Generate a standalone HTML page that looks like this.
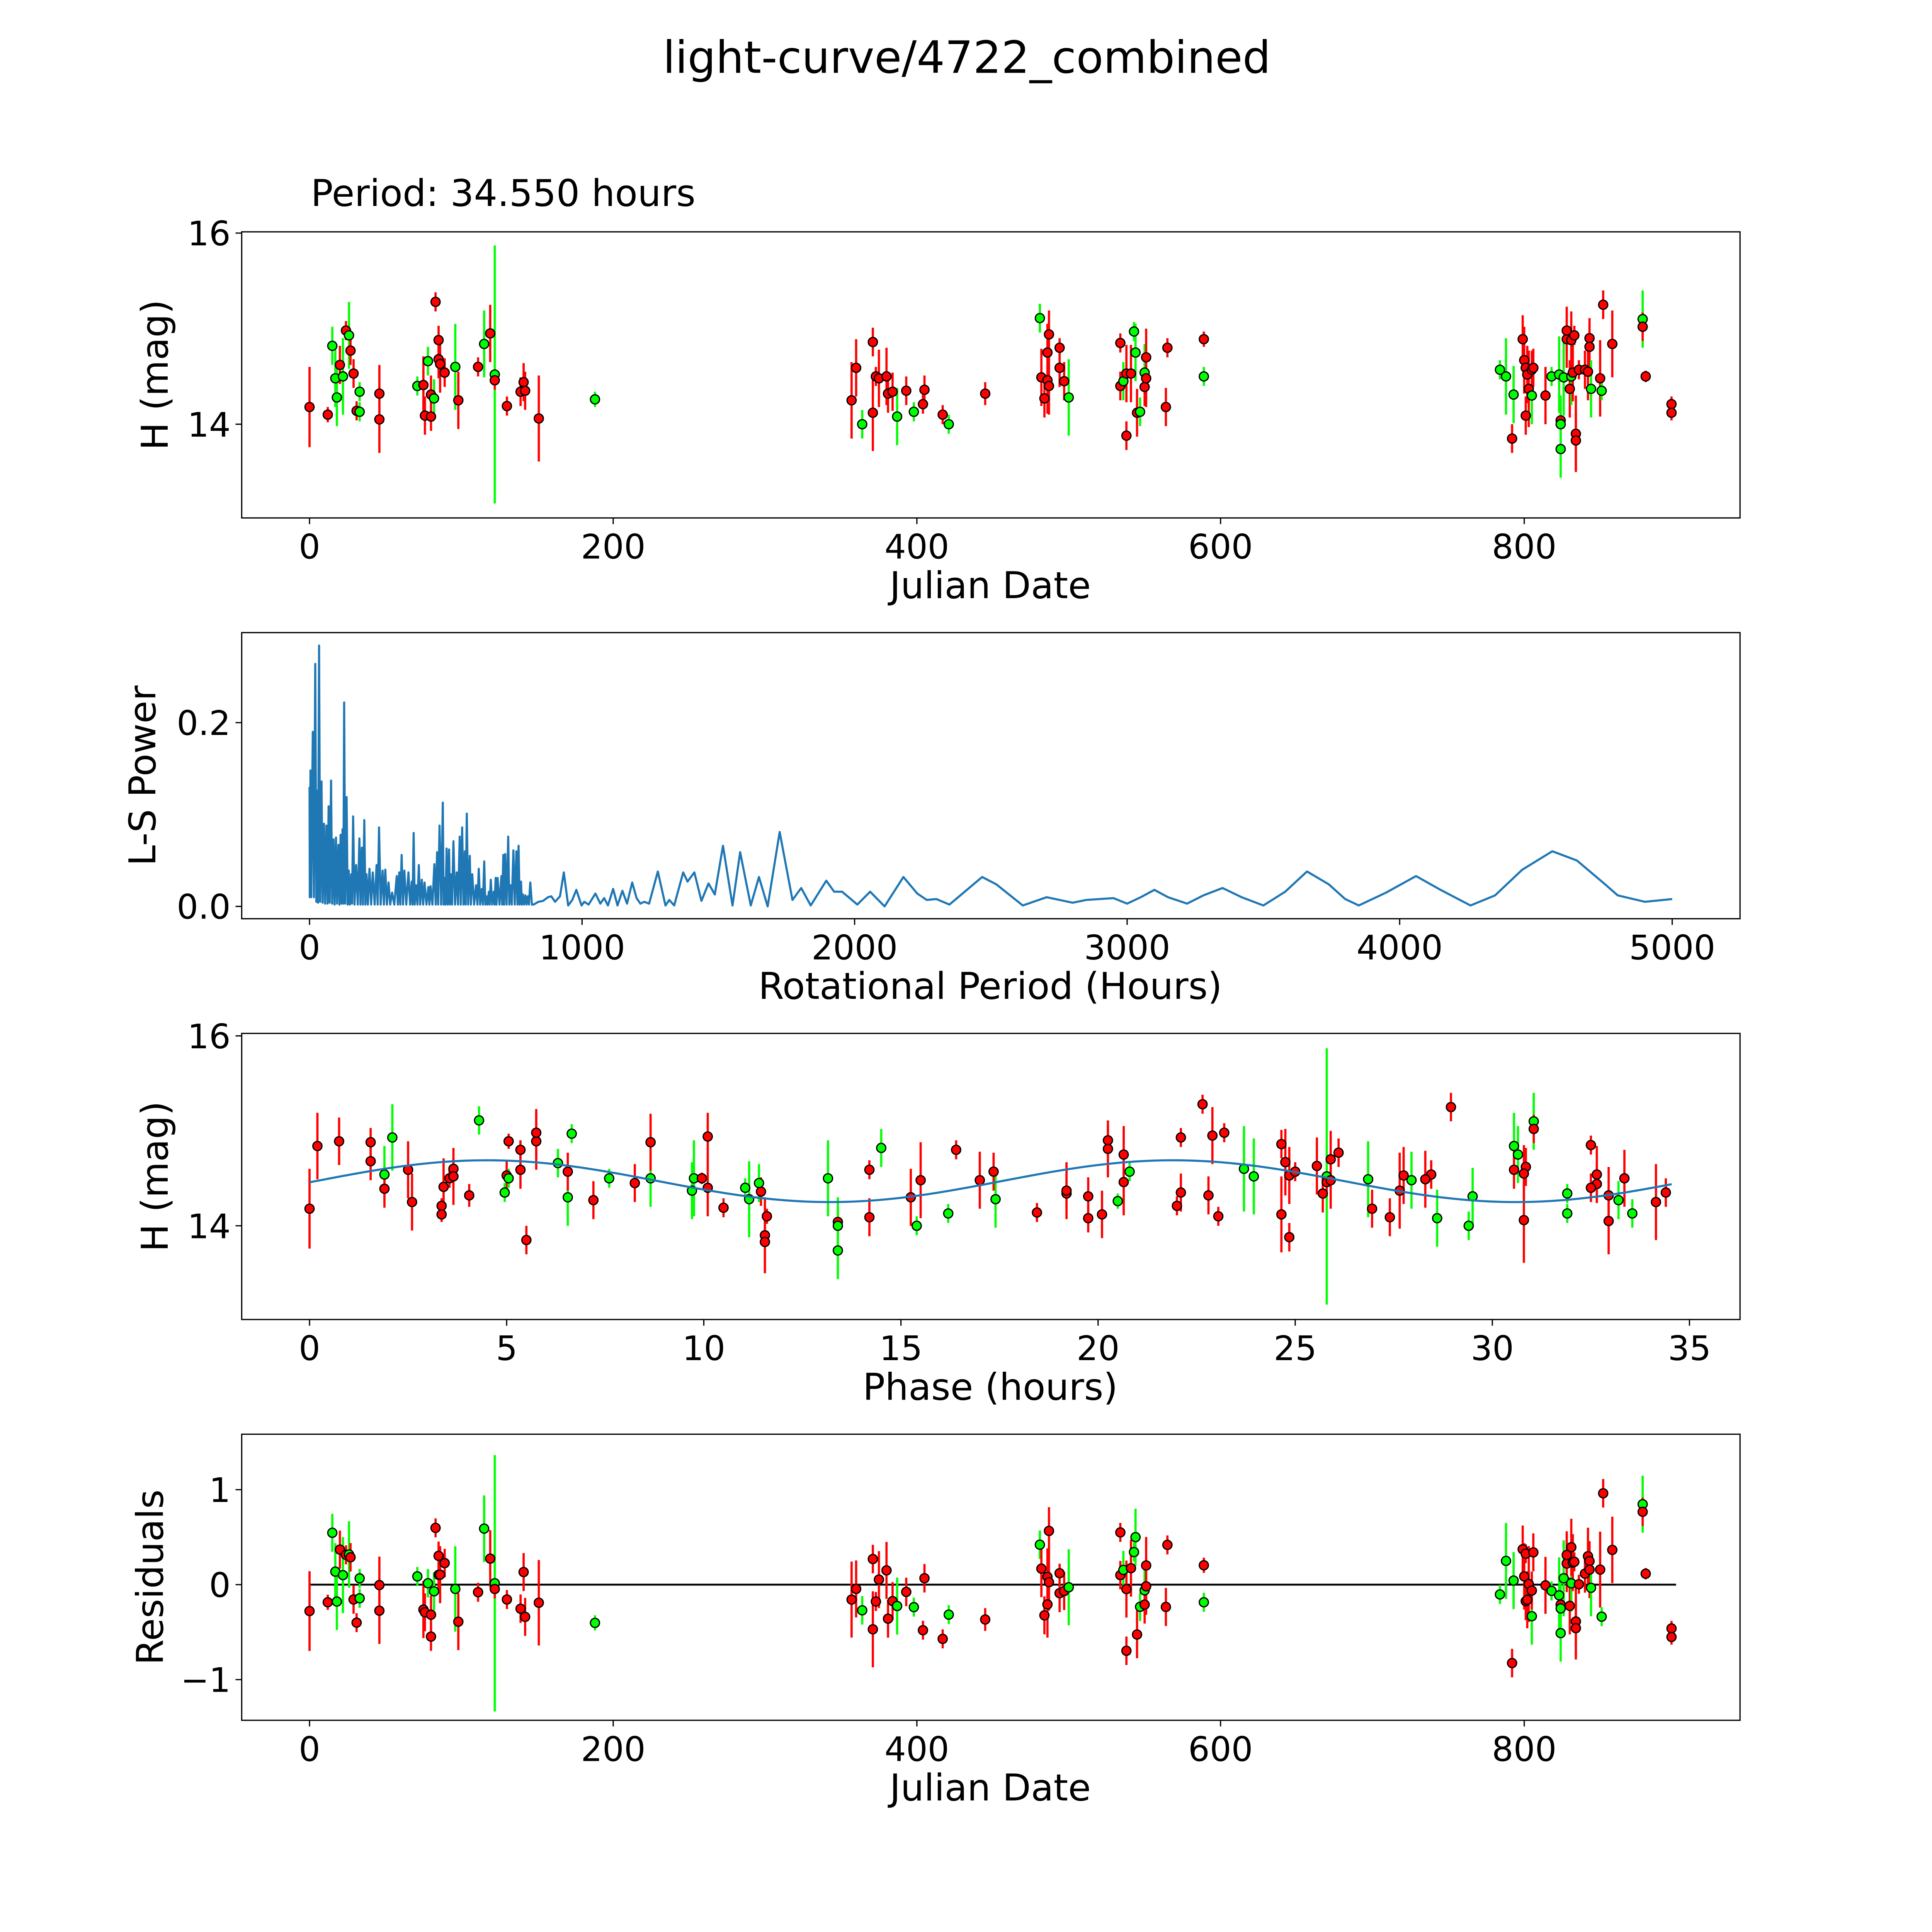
<!DOCTYPE html>
<html><head><meta charset="utf-8"><style>
html,body{margin:0;padding:0;background:#fff;width:5400px;height:5400px;overflow:hidden}
svg{display:block}
text{font-family:"DejaVu Sans","Liberation Sans",sans-serif;fill:#000}
</style></head><body>
<svg id="fig" width="5400" height="5400" viewBox="0 0 1692 1692" xmlns="http://www.w3.org/2000/svg">
<rect x="0" y="0" width="1692" height="1692" fill="#fff"/>
<text x="784" y="59" font-size="36" text-anchor="middle">light-curve/4722_combined</text>
<text x="252" y="167" font-size="30">Period: 34.550 hours</text>
<g id="layer"></g>
</svg>
<script>
// ---- data ----
const jd = [0,12,15,17,18,20,22,24,26,27,29,31,33,33,46,46,71,75,76,78,80,80,82,83,85,85,86,89,96,98,111,115,119,122,122,130,139,141,142,151,188,357,360,364,371,371,373,375,380,381,384,387,393,398,404,405,417,421,445,481,482,484,486,486,487,487,494,494,497,500,534,534,536,538,538,541,543,544,545,547,550,550,551,551,564,565,589,589,784,788,793,792,799,800,801,801,802,803,805,805,806,814,818,823,824,824,824,826,828,828,830,831,831,832,833,834,834,836,840,842,843,843,844,850,851,852,858,878,878,880,897,897];
const mag = [14.18,14.1,14.82,14.48,14.28,14.62,14.5,14.98,14.93,14.77,14.53,14.14,14.13,14.34,14.05,14.32,14.4,14.41,14.09,14.66,14.31,14.08,14.27,15.28,14.88,14.68,14.63,14.54,14.6,14.25,14.6,14.84,14.95,14.52,14.46,14.19,14.34,14.44,14.35,14.06,14.26,14.25,14.59,14.0,14.12,14.86,14.5,14.48,14.5,14.32,14.34,14.08,14.35,14.13,14.21,14.36,14.1,14.0,14.32,15.11,14.49,14.27,14.46,14.75,14.94,14.4,14.59,14.8,14.45,14.28,14.4,14.85,14.45,14.53,13.88,14.53,14.97,14.75,14.12,14.13,14.54,14.39,14.48,14.7,14.18,14.8,14.89,14.5,14.57,14.5,14.31,13.85,14.89,14.67,14.59,14.09,14.52,14.37,14.3,14.57,14.59,14.3,14.5,14.52,14.04,14.0,13.74,14.49,14.89,14.98,14.37,14.5,14.88,14.54,14.93,13.9,13.83,14.57,14.57,14.55,14.9,14.81,14.37,14.48,14.35,15.25,14.84,15.1,15.02,14.5,14.21,14.12];
const magErr = [0.42,0.08,0.2,0.3,0.3,0.2,0.4,0.1,0.35,0.15,0.15,0.1,0.1,0.1,0.35,0.3,0.1,0.3,0.2,0.15,0.2,0.15,0.2,0.1,0.15,0.2,0.3,0.15,0.45,0.3,0.1,0.35,0.3,1.35,0.1,0.1,0.15,0.2,0.2,0.45,0.08,0.4,0.3,0.15,0.4,0.15,0.1,0.3,0.3,0.2,0.2,0.3,0.15,0.1,0.1,0.15,0.1,0.1,0.12,0.15,0.3,0.2,0.35,0.3,0.25,0.3,0.2,0.1,0.2,0.4,0.15,0.1,0.2,0.3,0.15,0.3,0.1,0.3,0.25,0.15,0.3,0.2,0.3,0.3,0.2,0.1,0.08,0.1,0.1,0.4,0.3,0.15,0.25,0.35,0.1,0.2,0.3,0.4,0.3,0.2,0.2,0.3,0.1,0.4,0.15,0.3,0.3,0.4,0.3,0.25,0.3,0.3,0.3,0.3,0.1,0.4,0.3,0.1,0.2,0.3,0.15,0.3,0.3,0.4,0.1,0.15,0.35,0.3,0.15,0.06,0.08,0.08];
const band = "rrgggrgrgrrrggrrgrrgrrgrrrrrgrrgrgrrrrrrgrrgrrrrrrrgrgrrrgrgrrrrrrrrrgrrgrrrggrggrrrrrrggggrrrrrrrgrrrggrgggrrrgrrrrrrrrrrgrgrrgrrrrr".split("");
const rotPeriod = 34.55;
const modelMean = 14.47, modelAmp = 0.22, modelPeak = 4.5, modelHarmPeriod = 17.4;

// periodogram: period (hours) and power
const pgPeriod = [0,1,3.5,6,12,16,21,25,28,31,35,39,44,48,53,57,62,66,70,74,79,83,88,92,97,101,106,110,114,118,121,124,127,131,136,140,144,148,153,156,160,165,171,177,183,187,192,196,201,205,209,214,220,226,232,239,246,250,255,261,268,273,278,284,290,296,303,311,320,324,329,333,338,343,348,355,363,369,375,378,382,386,391,396,401,406,412,417,422,429,436,440,444,451,458,463,468,472,477,483,489,492,496,499,503,507,512,515,519,523,528,534,540,545,551,555,560,565,570,573,577,582,588,592,597,604,611,616,621,626,632,636,641,645,649,653,658,661,665,670,676,679,683,686,690,697,704,707,711,714,718,723,729,733,737,742,748,753,759,763,767,771,776,779,783,787,792,796,801,805,810,816,822,840,857,875,887,901,919,933,949,964,979,998,1008,1024,1049,1067,1081,1095,1114,1130,1148,1165,1184,1200,1214,1228,1246,1278,1306,1320,1338,1371,1387,1412,1438,1464,1487,1517,1552,1580,1619,1649,1681,1725,1772,1804,1839,1896,1925,1954,2010,2057,2110,2179,2230,2265,2300,2348,2468,2520,2617,2705,2800,2850,2950,3000,3050,3100,3150,3220,3280,3350,3420,3500,3580,3660,3740,3800,3850,3950,4060,4150,4260,4350,4450,4560,4650,4750,4800,4900,5000];
const pgPower = [0.13,0.01,0.148,0.01,0.19,0.01,0.264,0.005,0.126,0.004,0.284,0.005,0.136,0.004,0.09,0.003,0.088,0.003,0.109,0.004,0.137,0.003,0.073,0.002,0.075,0.003,0.067,0.002,0.078,0.003,0.084,0.003,0.222,0.003,0.119,0.002,0.039,0.002,0.035,0.003,0.098,0.002,0.045,0.002,0.074,0.002,0.064,0.002,0.094,0.002,0.035,0.002,0.041,0.002,0.037,0.002,0.045,0.002,0.086,0.002,0.039,0.002,0.04,0.002,0.026,0.002,0.015,0.002,0.033,0.002,0.037,0.002,0.056,0.002,0.039,0.002,0.037,0.002,0.027,0.002,0.08,0.002,0.023,0.002,0.045,0.002,0.029,0.002,0.026,0.002,0.021,0.002,0.022,0.002,0.046,0.002,0.059,0.002,0.088,0.002,0.113,0.002,0.031,0.002,0.063,0.002,0.062,0.002,0.035,0.002,0.071,0.002,0.037,0.002,0.076,0.002,0.086,0.002,0.06,0.002,0.101,0.002,0.055,0.002,0.035,0.002,0.023,0.002,0.041,0.002,0.019,0.002,0.049,0.002,0.011,0.002,0.016,0.002,0.029,0.002,0.016,0.002,0.031,0.002,0.031,0.002,0.033,0.002,0.056,0.002,0.057,0.002,0.076,0.002,0.023,0.002,0.061,0.002,0.06,0.002,0.066,0.002,0.027,0.002,0.013,0.002,0.012,0.002,0.011,0.002,0.026,0.002,0.002,0.005,0.006,0.01,0.011,0.005,0.011,0.037,0.001,0.007,0.018,0.001,0.005,0.002,0.014,0.003,0.009,0.001,0.019,0.001,0.017,0.003,0.026,0.009,0.003,0.005,0.003,0.038,0.001,0.007,0.001,0.037,0.027,0.037,0.006,0.025,0.013,0.066,0.001,0.059,0.001,0.032,0,0.081,0.007,0.02,0.001,0.028,0.016,0.016,0.002,0.016,0,0.032,0.014,0.007,0.008,0.002,0.032,0.024,0.001,0.01,0.004,0.007,0.009,0.003,0.01,0.018,0.01,0.003,0.012,0.02,0.01,0.001,0.016,0.038,0.024,0.008,0.001,0.015,0.033,0.018,0.001,0.012,0.04,0.06,0.05,0.025,0.012,0.005,0.008];

const xTicksJD = [0,200,400,600,800];
const yTicksMag = [14,16];
const xTicksPeriod = [0,1000,2000,3000,4000,5000];
const yTicksPower = [0.0,0.2];
const yTicksPowerLabels = ["0.0","0.2"];
const xTicksPhase = [0,5,10,15,20,25,30,35];
const yTicksResid = [-1,0,1];
const yTicksResidLabels = ["\u22121","0","1"];

// ---- helpers ----
const NS = "http://www.w3.org/2000/svg";
const layer = document.getElementById('layer');
function mk(tag, attrs, parent){ const e=document.createElementNS(NS,tag); for(const k in attrs) e.setAttribute(k,attrs[k]); (parent||layer).appendChild(e); return e; }
function lin(d0,d1,p0,p1){ return v => p0+(v-d0)*(p1-p0)/(d1-d0); }

const L=196, R=1411;
const panels = {
  lc:   {top:188, bot:420, x:lin(0,800,251,1236),  y:lin(14,16,344,189)},
  pg:   {top:513, bot:745, x:lin(0,5000,251,1356), y:lin(0,0.2,735,586)},
  ph:   {top:838, bot:1070,x:lin(0,35,251,1370),   y:lin(14,16,994,840)},
  res:  {top:1163,bot:1395,x:lin(0,800,251,1236),  y:lin(0,1,1285,1208)}
};
function modelAt(p){ return modelMean + modelAmp*Math.cos(2*Math.PI*(p-modelPeak)/modelHarmPeriod); }
const phase = jd.map(d => (d*24) % rotPeriod);
const resid = mag.map((m,i) => m - modelAt(phase[i]));

function axes(P, name, xt, xtl, yt, ytl, xlabel, ylabel, ylabX){
  const g = mk('g',{});
  
  
  xt.forEach((v,i)=>{ const x=P.x(v);
    mk('line',{x1:x,y1:P.bot,x2:x,y2:P.bot+5,stroke:'#000','stroke-width':1},g);
    const t=mk('text',{x:x,y:P.bot+33,'font-size':27.5,'text-anchor':'middle'},g); t.textContent=xtl[i];
    
    
  });
  yt.forEach((v,i)=>{ const y=P.y(v);
    mk('line',{x1:L-5,y1:y,x2:L,y2:y,stroke:'#000','stroke-width':1},g);
    const t=mk('text',{x:L-9,y:y+10,'font-size':27.5,'text-anchor':'end'},g); t.textContent=ytl[i];
    
    
  });
  const xl=mk('text',{x:803,y:P.bot+65,'font-size':30,'text-anchor':'middle'},g); xl.textContent=xlabel;
  
  
  const cy=(P.top+P.bot)/2;
  const yl=mk('text',{x:ylabX,y:cy,'font-size':30,'text-anchor':'middle',transform:`rotate(-90 ${ylabX} ${cy})`},g); yl.textContent=ylabel;
  
  
}
function frame(P,name){
  const r=mk('rect',{x:L,y:P.top,width:R-L,height:P.bot-P.top,fill:'none',stroke:'#000','stroke-width':1});
  
  
}
function scatter(P, xs, ys, name){
  const g=mk('g',{});
  
  
  xs.forEach((xv,i)=>{
    const col = band[i]==='g' ? '#00ff00' : '#ff0000';
    const x=P.x(xv);
    const y1=Math.max(P.top,P.y(ys[i]+magErr[i])), y2=Math.min(P.bot,P.y(ys[i]-magErr[i]));
    const l=mk('line',{x1:x,y1:y1,x2:x,y2:y2,stroke:col,'stroke-width':1.8},g);
    
    
  });
  xs.forEach((xv,i)=>{
    const col = band[i]==='g' ? '#00ff00' : '#ff0000';
    const c=mk('circle',{cx:P.x(xv),cy:P.y(ys[i]),r:3.7,fill:col,stroke:'#000','stroke-width':1},g);
    
    
  });
}

// Panel 1
let P=panels.lc;
scatter(P, jd, mag, 'lightcurve');
frame(P,'lightcurve');
axes(P,'lightcurve',xTicksJD,xTicksJD.map(String),yTicksMag,yTicksMag.map(String),'Julian Date','H (mag)',136);

// Panel 2
P=panels.pg;
const pgPath = pgPeriod.map((h,i)=>(i?'L':'M')+P.x(h).toFixed(2)+' '+P.y(pgPower[i]).toFixed(2)).join(' ');
const pl=mk('path',{d:pgPath,fill:'none',stroke:'#1f77b4','stroke-width':1.7,'stroke-linejoin':'round'});


frame(P,'periodogram');
axes(P,'periodogram',xTicksPeriod,xTicksPeriod.map(String),yTicksPower,yTicksPowerLabels,'Rotational Period (Hours)','L-S Power',126);

// Panel 3
P=panels.ph;
scatter(P, phase, mag, 'phased');
let md=''; for(let k=0;k<=200;k++){ const p=k/200*rotPeriod; md+=(k?'L':'M')+P.x(p).toFixed(2)+' '+P.y(modelAt(p)).toFixed(2); }
const ml=mk('path',{d:md,fill:'none',stroke:'#1f77b4','stroke-width':1.7});


frame(P,'phased');
axes(P,'phased',xTicksPhase,xTicksPhase.map(String),yTicksMag,yTicksMag.map(String),'Phase (hours)','H (mag)',136);

// Panel 4
P=panels.res;
const zl=mk('line',{x1:P.x(0),y1:P.y(0),x2:P.x(900),y2:P.y(0),stroke:'#000','stroke-width':1.5});


scatter(P, jd, resid, 'residuals');
frame(P,'residuals');
axes(P,'residuals',xTicksJD,xTicksJD.map(String),yTicksResid,yTicksResidLabels,'Julian Date','Residuals',132);
</script>
</body></html>
